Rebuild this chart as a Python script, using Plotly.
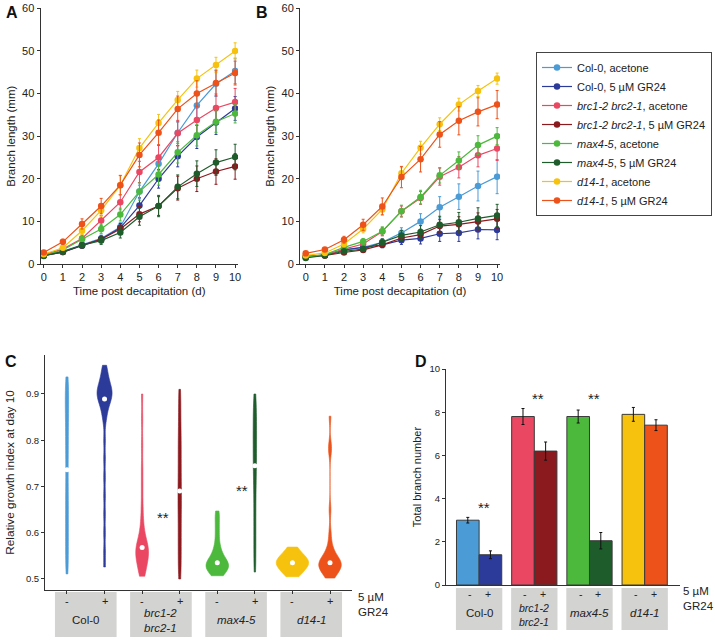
import numpy as np
import plotly.graph_objects as go

W, H = 715, 641


def px(x):
    return x / W


def py(y):
    return 1 - y / H


# ---------------- data ----------------
days = list(range(11))

series_labels = [
    "Col-0, acetone",
    "Col-0, 5 µM GR24",
    "<i>brc1-2 brc2-1</i>, acetone",
    "<i>brc1-2 brc2-1</i>, 5 µM GR24",
    "<i>max4-5</i>, acetone",
    "<i>max4-5</i>, 5 µM GR24",
    "<i>d14-1</i>, acetone",
    "<i>d14-1</i>, 5 µM GR24",
]
colors = ["#4a9bd6", "#2c3a9a", "#ea4862", "#8b1a1f",
          "#4cb93c", "#1e5c2c", "#f6c20e", "#ec5219"]

# Panel A (branch length, mm)
a_col_ac = [2.0, 3.0, 4.5, 6.0, 8.7, 17.0, 23.5, 30.8, 37.2, 42.3, 45.3]
a_col_gr = [2.0, 2.8, 4.3, 5.8, 8.5, 13.7, 20.0, 25.3, 29.8, 33.2, 36.5]
a_brc_ac = [2.2, 3.5, 6.0, 10.2, 14.5, 21.6, 25.0, 30.7, 33.8, 36.6, 38.0]
a_brc_gr = [2.0, 2.8, 4.4, 5.8, 8.2, 11.7, 13.6, 17.8, 20.0, 21.7, 22.9]
a_max_ac = [2.0, 3.3, 5.8, 8.2, 11.6, 17.0, 21.0, 26.2, 30.2, 33.4, 35.3]
a_max_gr = [1.9, 2.9, 4.4, 5.5, 7.4, 11.1, 13.6, 18.1, 21.2, 23.8, 25.1]
a_d14_ac = [2.3, 3.8, 7.8, 12.6, 18.5, 27.2, 33.1, 38.5, 43.5, 46.7, 50.0]
a_d14_gr = [2.7, 5.2, 9.4, 13.6, 18.5, 25.6, 30.8, 36.4, 40.0, 42.5, 44.8]

a_col_ac_err = [0.3, 0.4, 0.6, 0.8, 1.0, 1.5, 2.0, 2.5, 2.8, 3.0, 3.0]
a_col_gr_err = [0.3, 0.4, 0.5, 0.7, 1.0, 1.8, 2.2, 2.5, 2.7, 2.8, 2.8]
a_brc_ac_err = [0.3, 0.5, 0.8, 1.2, 1.8, 2.5, 3.0, 3.0, 3.2, 3.3, 3.2]
a_brc_gr_err = [0.3, 0.4, 0.6, 0.8, 1.3, 1.8, 2.2, 2.8, 3.0, 3.0, 3.0]
a_max_ac_err = [0.3, 0.4, 0.7, 1.0, 1.5, 2.0, 2.5, 2.5, 2.5, 2.5, 2.2]
a_max_gr_err = [0.3, 0.4, 0.6, 0.9, 1.3, 2.0, 2.5, 2.8, 3.0, 3.0, 3.0]
a_d14_ac_err = [0.3, 0.5, 0.9, 1.4, 2.2, 2.2, 2.0, 2.0, 2.0, 1.8, 1.9]
a_d14_gr_err = [0.3, 0.6, 1.2, 1.8, 2.3, 2.8, 3.0, 3.0, 3.0, 3.0, 2.8]

# Panel B (branch length, mm)
b_col_ac = [1.7, 2.2, 3.3, 3.9, 5.1, 7.3, 10.0, 13.3, 15.8, 18.3, 20.5]
b_col_gr = [1.7, 2.1, 3.3, 3.9, 4.5, 5.6, 6.0, 7.1, 7.3, 8.1, 8.0]
b_brc_ac = [2.0, 2.0, 3.5, 4.7, 7.6, 12.4, 15.5, 20.5, 22.7, 25.5, 27.1]
b_brc_gr = [1.7, 2.0, 2.7, 3.3, 4.5, 6.1, 6.9, 8.9, 9.3, 10.0, 10.6]
b_max_ac = [1.6, 2.2, 3.9, 5.3, 7.7, 12.4, 15.7, 20.8, 24.3, 27.9, 30.0]
b_max_gr = [1.4, 2.0, 3.0, 3.5, 5.1, 6.7, 7.5, 9.2, 9.8, 10.7, 11.4]
b_d14_ac = [2.0, 2.6, 4.7, 8.2, 12.8, 21.3, 27.3, 32.8, 37.4, 40.6, 43.5]
b_d14_gr = [2.5, 3.4, 5.7, 9.2, 13.5, 20.4, 24.6, 30.4, 33.6, 35.7, 37.4]

b_col_ac_err = [0.2, 0.3, 0.5, 0.7, 0.8, 1.2, 1.8, 2.5, 3.0, 3.5, 4.0]
b_col_gr_err = [0.2, 0.3, 0.4, 0.5, 0.7, 1.0, 1.3, 1.8, 2.0, 2.2, 2.3]
b_brc_ac_err = [0.2, 0.3, 0.5, 0.6, 1.0, 1.2, 1.5, 2.0, 2.5, 2.7, 2.8]
b_brc_gr_err = [0.2, 0.3, 0.4, 0.5, 0.6, 0.8, 1.0, 1.5, 1.8, 2.0, 2.2]
b_max_ac_err = [0.2, 0.3, 0.5, 0.7, 1.0, 1.4, 1.6, 1.8, 2.0, 2.2, 2.0]
b_max_gr_err = [0.2, 0.3, 0.4, 0.6, 0.8, 1.2, 1.5, 2.0, 2.3, 2.5, 2.6]
b_d14_ac_err = [0.2, 0.3, 0.6, 0.9, 1.2, 1.3, 1.5, 1.5, 1.5, 1.3, 1.3]
b_d14_gr_err = [0.2, 0.4, 0.8, 1.3, 2.0, 2.5, 3.0, 3.0, 3.3, 3.3, 3.3]

# Panel C (relative growth index at day 10, per-branch samples)
c_col_ac = [0.511, 0.53, 0.55, 0.57, 0.59, 0.61, 0.63, 0.65, 0.67, 0.69, 0.71,
            0.736,
            0.76, 0.78, 0.80, 0.82, 0.84, 0.86, 0.875, 0.89, 0.905, 0.92, 0.937]
c_col_gr = [0.526, 0.56, 0.60, 0.64, 0.68, 0.72, 0.76, 0.80,
            0.84, 0.855, 0.865, 0.875, 0.88, 0.885,
            0.889,
            0.893, 0.897, 0.90, 0.903, 0.906, 0.91, 0.913, 0.917, 0.922,
            0.928, 0.935, 0.943, 0.952, 0.962]
c_brc_ac = [0.506, 0.512, 0.52, 0.528, 0.535, 0.54, 0.545, 0.55, 0.555, 0.559,
            0.562, 0.565,
            0.568,
            0.572, 0.578, 0.585, 0.595, 0.61, 0.63, 0.66, 0.70, 0.74, 0.79,
            0.845, 0.90]
c_brc_gr = [0.50, 0.52, 0.54, 0.56, 0.58, 0.60, 0.62, 0.64, 0.66, 0.675,
            0.69,
            0.71, 0.73, 0.75, 0.77, 0.79, 0.81, 0.83, 0.86, 0.885, 0.91]
c_max_ac = [0.507, 0.51, 0.513, 0.516, 0.519, 0.522, 0.525, 0.527, 0.529, 0.531,
            0.533, 0.534,
            0.535,
            0.538, 0.542, 0.547, 0.552, 0.558, 0.565, 0.575, 0.59, 0.605,
            0.62, 0.635, 0.647]
c_max_gr = [0.515, 0.54, 0.565, 0.59, 0.615, 0.64, 0.665, 0.69, 0.71, 0.73,
            0.745,
            0.76, 0.775, 0.79, 0.805, 0.82, 0.835, 0.85, 0.865, 0.88, 0.90]
c_d14_ac = [0.505, 0.51, 0.515, 0.52, 0.524, 0.528, 0.531, 0.533,
            0.535,
            0.537, 0.54, 0.543, 0.546, 0.55, 0.555, 0.561, 0.569]
c_d14_gr = [0.502, 0.507, 0.512, 0.516, 0.52, 0.523, 0.526, 0.528, 0.53,
            0.532, 0.533, 0.534,
            0.535,
            0.537, 0.54, 0.544, 0.549, 0.555, 0.563, 0.575, 0.60, 0.65,
            0.775, 0.79, 0.852]

violin_samples = [c_col_ac, c_col_gr, c_brc_ac, c_brc_gr,
                  c_max_ac, c_max_gr, c_d14_ac, c_d14_gr]
violin_bandwidth = [0.03, 0.015, 0.02, 0.03, 0.013, 0.03, 0.012, 0.015]
violin_width = [0.09, 0.4, 0.34, 0.09, 0.6, 0.09, 0.86, 0.6]

genotypes = ["Col-0", "<i>brc1-2</i><br><i>brc2-1</i>", "<i>max4-5</i>", "<i>d14-1</i>"]

# Panel D (total branch number)
d_acetone = [3.0, 7.8, 7.8, 7.9]
d_acetone_err = [0.13, 0.37, 0.30, 0.32]
d_gr24 = [1.4, 6.2, 2.05, 7.4]
d_gr24_err = [0.18, 0.42, 0.38, 0.25]

# ---------------- figure ----------------
FONT = "Liberation Sans, Arial, sans-serif"
TXT = "#222222"
fig = go.Figure()

a_means = [a_col_ac, a_col_gr, a_brc_ac, a_brc_gr, a_max_ac, a_max_gr, a_d14_ac, a_d14_gr]
a_errs = [a_col_ac_err, a_col_gr_err, a_brc_ac_err, a_brc_gr_err,
          a_max_ac_err, a_max_gr_err, a_d14_ac_err, a_d14_gr_err]
b_means = [b_col_ac, b_col_gr, b_brc_ac, b_brc_gr, b_max_ac, b_max_gr, b_d14_ac, b_d14_gr]
b_errs = [b_col_ac_err, b_col_gr_err, b_brc_ac_err, b_brc_gr_err,
          b_max_ac_err, b_max_gr_err, b_d14_ac_err, b_d14_gr_err]

for i in range(8):
    for means, errs, xa, ya, show in [(a_means, a_errs, "x", "y", True),
                                      (b_means, b_errs, "x2", "y2", False)]:
        fig.add_trace(go.Scatter(
            x=days, y=means[i], mode="lines+markers",
            name=series_labels[i], legendgroup=str(i), showlegend=show,
            line=dict(color=colors[i], width=1.2),
            marker=dict(color=colors[i], size=6.5),
            error_y=dict(type="data", array=errs[i], color=colors[i],
                         thickness=1, width=1.5),
            xaxis=xa, yaxis=ya,
        ))

# Panel C violins
for i in range(8):
    fig.add_trace(go.Violin(
        y=violin_samples[i], x0=i, name="", showlegend=False,
        line=dict(color=colors[i], width=0.6), fillcolor=colors[i],
        points=False, box_visible=False, meanline_visible=False,
        spanmode="hard", scalemode="width", width=violin_width[i],
        bandwidth=violin_bandwidth[i], hoverinfo="skip",
        xaxis="x3", yaxis="y3",
    ))
fig.add_trace(go.Scatter(
    x=list(range(8)), y=[float(np.median(s)) for s in violin_samples],
    mode="markers", marker=dict(color="white", size=5),
    showlegend=False, hoverinfo="skip", xaxis="x3", yaxis="y3",
))

# Panel D bars
fig.add_trace(go.Bar(
    x=list(range(4)), y=d_acetone, showlegend=False,
    marker=dict(color=[colors[0], colors[2], colors[4], colors[6]],
                line=dict(color="#3a3a3a", width=1)),
    error_y=dict(type="data", array=d_acetone_err, color="#111111",
                 thickness=1, width=1.5),
    xaxis="x4", yaxis="y4",
))
fig.add_trace(go.Bar(
    x=list(range(4)), y=d_gr24, showlegend=False,
    marker=dict(color=[colors[1], colors[3], colors[5], colors[7]],
                line=dict(color="#3a3a3a", width=1)),
    error_y=dict(type="data", array=d_gr24_err, color="#111111",
                 thickness=1, width=1.5),
    xaxis="x4", yaxis="y4",
))

base_axis = dict(showline=True, linecolor="#333333", linewidth=1,
                 ticks="outside", ticklen=3, tickcolor="#333333",
                 showgrid=False, zeroline=False, automargin=False)
big_ticks = dict(tickfont=dict(family=FONT, size=11, color=TXT))
small_ticks = dict(tickfont=dict(family=FONT, size=9.5, color=TXT))

ya_dom = [py(264), py(8.3)]
fig.update_layout(
    template="none",
    width=W, height=H, margin=dict(l=0, r=0, t=0, b=0, pad=0),
    paper_bgcolor="white", plot_bgcolor="white",
    font=dict(family=FONT, color=TXT),
    barmode="group", bargap=0.18, bargroupgap=0.0,
    violinmode="overlay",
    xaxis=dict(domain=[px(40.5), px(238)], range=[-0.17, 10.15], anchor="y",
               tickvals=days, title=dict(text="Time post decapitation (d)",
                                         font=dict(size=11.5), standoff=4),
               **base_axis, **big_ticks),
    yaxis=dict(domain=ya_dom, range=[0, 60], dtick=10, anchor="x",
               title=dict(text="Branch length (mm)", font=dict(size=11.5), standoff=4),
               **base_axis, **big_ticks),
    xaxis2=dict(domain=[px(300), px(500)], range=[-0.3, 10.15], anchor="y2",
                tickvals=days, title=dict(text="Time post decapitation (d)",
                                          font=dict(size=11.5), standoff=4),
                **base_axis, **big_ticks),
    yaxis2=dict(domain=ya_dom, range=[0, 60], dtick=10, anchor="x2",
                title=dict(text="Branch length (mm)", font=dict(size=11.5), standoff=4),
                **base_axis, **big_ticks),
    xaxis3=dict(domain=[px(45), px(352)], range=[-0.585, 7.585], anchor="y3",
                tickvals=list(range(8)), showticklabels=False, **base_axis),
    yaxis3=dict(domain=[py(590), py(355)], range=[0.4762, 0.9843], anchor="x3",
                tickvals=[0.5, 0.6, 0.7, 0.8, 0.9],
                ticktext=["0.5", "0.6", "0.7", "0.8", "0.9"],
                title=dict(text="Relative growth index at day 10",
                           font=dict(size=11.8), standoff=8),
                **base_axis, **small_ticks),
    xaxis4=dict(domain=[px(446), px(680)], range=[-0.6, 3.64], anchor="y4",
                tickvals=list(range(4)), showticklabels=False,
                **{**base_axis, "ticks": ""}),
    yaxis4=dict(domain=[py(585), py(369)], range=[0, 10], dtick=2, anchor="x4",
                title=dict(text="Total branch number", font=dict(size=11), standoff=5),
                **base_axis, **small_ticks),
    legend=dict(x=px(712), y=py(52), xanchor="right", yanchor="top",
                bordercolor="#444444", borderwidth=1, bgcolor="white",
                font=dict(family=FONT, size=11, color=TXT),
                tracegroupgap=0),
)

ann = []
shapes = []


def text(t, x, y, size, xref="paper", xanchor="center", align="center", color=TXT):
    ann.append(dict(text=t, x=x, y=y, xref=xref, yref="paper", showarrow=False,
                    xanchor=xanchor, yanchor="middle", align=align,
                    font=dict(family=FONT, size=size, color=color)))


# panel letters
for letter, x, y in [("A", 12, 13), ("B", 262, 13), ("C", 11, 361), ("D", 421, 361)]:
    text(f"<b>{letter}</b>", px(x), py(y), 16, color="#111111")

# Panel C category boxes and labels
for g in range(4):
    shapes.append(dict(type="rect", xref="x3", yref="paper",
                       x0=2 * g - 0.32, x1=2 * g + 1.32, y0=py(637), y1=py(592),
                       fillcolor="#d3d3d1", line=dict(width=0), layer="below"))
    for k, sign in enumerate(["-", "+"]):
        text(sign, 2 * g + k, py(601), 11, xref="x3")
    text(genotypes[g], 2 * g + 0.5, py(620), 11.5, xref="x3")
text("5 µM<br>GR24", px(356), py(604), 11.5, xanchor="left", align="left")

# Panel D category boxes and labels
for g in range(4):
    shapes.append(dict(type="rect", xref="x4", yref="paper",
                       x0=g - 0.42, x1=g + 0.42, y0=py(630), y1=py(588),
                       fillcolor="#d3d3d1", line=dict(width=0), layer="below"))
    for k, sign in enumerate(["-", "+"]):
        text(sign, g - 0.16 + 0.32 * k, py(593.5), 10.5, xref="x4")
    if g == 1:
        text(genotypes[g], g, py(614.5), 10.5, xref="x4")
    else:
        text(genotypes[g], g, py(613), 11.5, xref="x4")
text("5 µM<br>GR24", px(681), py(598), 11.5, xanchor="left", align="left")

# significance marks
for x, y in [(163, 514), (242, 487), (484, 504), (538, 395), (594, 395)]:
    text("**", px(x), py(y + 3), 15)

fig.update_layout(annotations=ann, shapes=shapes)
fig.write_html("out.html", config={"displayModeBar": False},
               post_script="document.body.style.margin='0';")
